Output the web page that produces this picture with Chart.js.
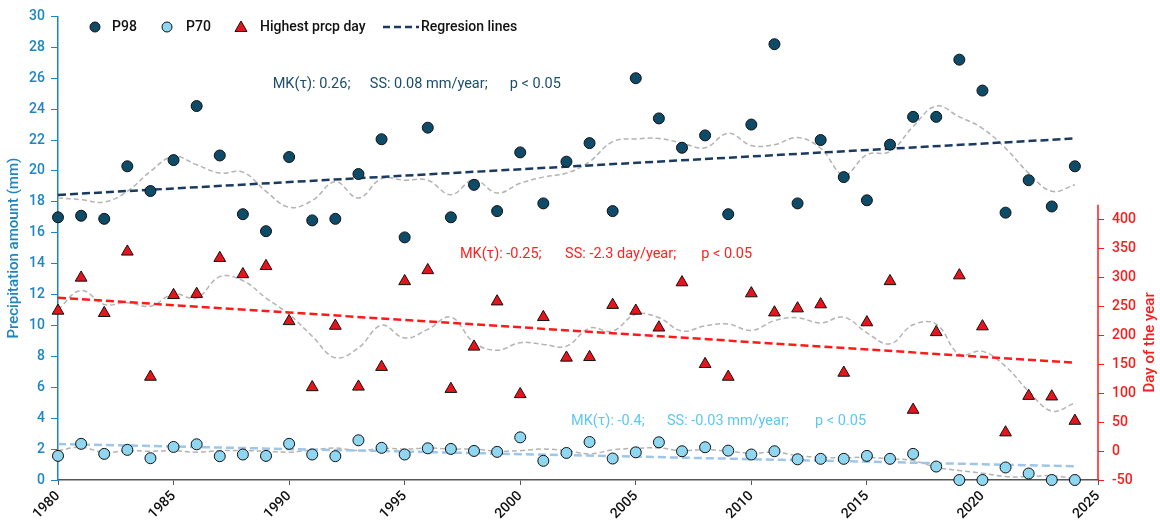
<!DOCTYPE html>
<html><head><meta charset="utf-8">
<script src="https://cdn.jsdelivr.net/npm/chart.js@4/dist/chart.umd.min.js"></script>
<style>html,body{margin:0;padding:0;background:#fff;}#wrap{width:1160px;height:523px;}</style>
</head><body><div id="wrap"><canvas id="c" width="1160" height="523"></canvas></div>
<script>
// ---------- data ----------
const years = [1980,1981,1982,1983,1984,1985,1986,1987,1988,1989,1990,1991,1992,1993,1994,1995,1996,1997,1998,1999,2000,2001,2002,2003,2004,2005,2006,2007,2008,2009,2010,2011,2012,2013,2014,2015,2016,2017,2018,2019,2020,2021,2022,2023,2024];
const p98 = [17.0,17.1,16.9,20.3,18.7,20.7,24.2,21.0,17.2,16.1,20.9,16.8,16.9,19.8,22.05,15.7,22.8,17.0,19.1,17.4,21.2,17.9,20.6,21.8,17.4,26.0,23.4,21.5,22.3,17.2,23.0,28.2,17.9,22.0,19.6,18.1,21.7,23.5,23.5,27.2,25.2,17.3,19.4,17.7,20.3];
const p70 = [1.56,2.34,1.69,1.95,1.41,2.14,2.31,1.54,1.65,1.56,2.34,1.65,1.54,2.57,2.08,1.65,2.05,2.01,1.88,1.82,2.76,1.24,1.75,2.46,1.39,1.79,2.44,1.86,2.12,1.90,1.65,1.86,1.34,1.37,1.37,1.56,1.37,1.69,0.87,0,0,0.81,0.42,0,0];
const prcpDay = [242,299,238,344,128,269,271,333,305,319,224,110,216,111,145,293,312,107,180,258,98,231,161,162,252,242,213,291,150,128,272,239,246,253,135,222,293,71,205,303,215,32,95,94,52];
const p98Smooth = [18.25,18.14,17.99,18.68,19.97,20.94,20.4,19.86,19.92,18.68,17.65,18.08,19.3,18.25,19.5,19.4,19.4,18.46,19.43,18.57,19.2,19.6,19.86,20.6,21.9,22.07,22.1,21.8,21.5,22.44,21.65,21.7,22.16,21.47,19.75,21.05,21.26,22.87,24.2,23.5,22.76,21.47,19.86,18.68,19.1];
const p70Smooth = [1.9,2.12,1.78,1.9,1.86,1.9,1.8,1.9,1.9,1.86,1.8,1.95,2.07,1.9,2.05,2.0,2.07,2.0,2.0,1.86,1.9,2.0,1.9,1.69,1.95,2.05,2.07,1.9,1.97,1.86,1.73,1.8,1.58,1.47,1.43,1.47,1.37,1.26,0.83,0.61,0.44,0.22,0.22,0.28,0.07];
const daySmooth = [244,277,253,256,250,271,264,301,294,264,236,198,161,178,217,195,210,231,187,174,187,184,181,212,207,236,230,207,216,219,208,225,230,221,231,204,185,218,219,167,172,146,103,69,83];
const trendYears = [1980,2024];
const p98Trend = [18.45,22.1];
const p70Trend = [2.33,0.89];
const dayTrend = [264.5,152.3];
const xTicks = [1980,1985,1990,1995,2000,2005,2010,2015,2020,2025];
const leftTicksMax = 30, dayAxisMin = -50, dayAxisMaxLabel = 400, dayAxisLineTop = 425;
const legendLabels = ['P98','P70','Highest prcp day','Regresion lines'];
const statsP98 = ['MK(\u03C4): 0.26;','SS: 0.08 mm/year;','p < 0.05'];
const statsDay = ['MK(\u03C4): -0.25;','SS: -2.3 day/year;','p < 0.05'];
const statsP70 = ['MK(\u03C4): -0.4;','SS: -0.03 mm/year;','p < 0.05'];
const yTitle = 'Precipitation amount (mm)';
const y2Title = 'Day of the year';

// ---------- styles ----------
const NAVY = '#0d4b69', LIGHT = '#8fd6f1', RED = '#ff1a1a', TRI = '#e8141b';
const NAVYLINE = '#1b3a63', LIGHTLINE = '#9ec5ea', GRAY = '#b3b3b3';
const BLUEAX = '#1d86c0';
const FONT = 'Roboto';

const pts = (xs, ys) => xs.map((x, i) => ({x: x, y: ys[i]}));

// annotation anchors (x in years, y in axis values)
const annP98 = {ys: 25.58, xs: [1989.29, 1993.49, 1999.55], color: '#1b4e6d'};
const annDay = {ys: 340, xs: [1997.39, 2001.94, 2007.83], color: '#ff2222'};
const annP70 = {ys: 3.79, xs: [2002.2, 2006.35, 2012.76], color: '#5cc8f2'};

const decor = {
  id: 'decor',
  afterDraw(chart) {
    const ctx = chart.ctx, sx = chart.scales.x, sy = chart.scales.y, sy2 = chart.scales.y2;
    ctx.save();
    const rx = chart.chartArea.right;
    ctx.strokeStyle = RED; ctx.lineWidth = 1.5; ctx.setLineDash([]);
    ctx.beginPath(); ctx.moveTo(rx, sy2.getPixelForValue(dayAxisMin)); ctx.lineTo(rx, sy2.getPixelForValue(dayAxisLineTop)); ctx.stroke();
    ctx.save();
    const cy = (sy2.getPixelForValue(dayAxisMin) + sy2.getPixelForValue(dayAxisLineTop)) / 2;
    ctx.translate(1150, cy); ctx.rotate(-Math.PI / 2);
    ctx.fillStyle = RED; ctx.font = '500 15px ' + FONT; ctx.textAlign = 'center'; ctx.textBaseline = 'middle';
    ctx.fillText(y2Title, 0, 0);
    ctx.restore();
    ctx.font = '400 14.5px ' + FONT; ctx.textAlign = 'left'; ctx.textBaseline = 'middle';
    const drawAnn = (a, texts, scale) => {
      ctx.fillStyle = a.color;
      texts.forEach((t, i) => ctx.fillText(t, sx.getPixelForValue(a.xs[i]), scale.getPixelForValue(a.ys)));
    };
    drawAnn(annP98, statsP98, sy);
    drawAnn(annDay, statsDay, sy2);
    drawAnn(annP70, statsP70, sy);
    const ly = 27;
    ctx.lineWidth = 1; ctx.strokeStyle = '#111';
    ctx.fillStyle = NAVY; ctx.beginPath(); ctx.arc(95, ly, 5, 0, Math.PI * 2); ctx.fill(); ctx.stroke();
    ctx.fillStyle = LIGHT; ctx.beginPath(); ctx.arc(167, ly, 5, 0, Math.PI * 2); ctx.fill(); ctx.stroke();
    ctx.fillStyle = TRI; ctx.beginPath(); ctx.moveTo(241, ly - 6); ctx.lineTo(247, ly + 4.5); ctx.lineTo(235, ly + 4.5); ctx.closePath(); ctx.fill(); ctx.stroke();
    ctx.strokeStyle = NAVYLINE; ctx.lineWidth = 2.5; ctx.setLineDash([7, 4]);
    ctx.beginPath(); ctx.moveTo(383, ly); ctx.lineTo(419, ly); ctx.stroke(); ctx.setLineDash([]);
    ctx.fillStyle = '#111'; ctx.font = '500 14px ' + FONT; ctx.textAlign = 'left'; ctx.textBaseline = 'middle';
    ctx.fillText(legendLabels[0], 112, ly);
    ctx.fillText(legendLabels[1], 186, ly);
    ctx.fillText(legendLabels[2], 260, ly);
    ctx.fillText(legendLabels[3], 421, ly);
    ctx.restore();
  }
};

const smoothDs = (data, axis) => ({type: 'line', data, yAxisID: axis, borderColor: GRAY, borderWidth: 1.5, borderDash: [5, 3], pointRadius: 0, tension: 0.4, fill: false, order: 3});
const trendDs = (data, axis, color, w) => ({type: 'line', data, yAxisID: axis, borderColor: color, borderWidth: w, borderDash: [8, 4], pointRadius: 0, tension: 0, fill: false, order: 2});
const ptDs = (data, axis, color, style, r) => ({type: 'line', data, yAxisID: axis, showLine: false, pointStyle: style, pointRadius: r, pointBackgroundColor: color, pointBorderColor: '#111', pointBorderWidth: 1, clip: false, order: 1});

new Chart(document.getElementById('c'), {
  type: 'line',
  data: {
    datasets: [
      smoothDs(pts(years, p98Smooth), 'y'),
      smoothDs(pts(years, p70Smooth), 'y'),
      smoothDs(pts(years, daySmooth), 'y2'),
      trendDs(pts(trendYears, p98Trend), 'y', NAVYLINE, 2.5),
      trendDs(pts(trendYears, dayTrend), 'y2', RED, 2.5),
      trendDs(pts(trendYears, p70Trend), 'y', LIGHTLINE, 2.5),
      ptDs(pts(years, p98), 'y', NAVY, 'circle', 5.5),
      ptDs(pts(years, p70), 'y', LIGHT, 'circle', 5.5),
      ptDs(pts(years, prcpDay), 'y2', TRI, 'triangle', 6.8)
    ]
  },
  options: {
    responsive: false, animation: false, devicePixelRatio: 1,
    layout: {padding: {top: 15, left: 0, right: 0, bottom: 0}},
    plugins: {legend: {display: false}, tooltip: {enabled: false}},
    scales: {
      x: {
        type: 'linear', min: xTicks[0], max: xTicks[xTicks.length - 1],
        afterBuildTicks: s => { s.ticks = xTicks.map(v => ({value: v})); },
        afterFit: s => { s.height = 43; },
        grid: {drawOnChartArea: false, drawTicks: true, tickLength: 5, color: '#555'},
        border: {color: '#555', width: 1.5},
        ticks: {color: '#111', font: {family: FONT, size: 14, weight: '500'}, maxRotation: 45, minRotation: 45, autoSkip: false, padding: 3, callback: v => String(v)}
      },
      y: {
        position: 'left', min: 0, max: leftTicksMax,
        afterFit: s => { s.width = 58; },
        grid: {drawOnChartArea: false, drawTicks: true, tickLength: 7, color: BLUEAX},
        border: {color: BLUEAX, width: 1.5},
        ticks: {stepSize: 2, color: BLUEAX, font: {family: FONT, size: 14, weight: '500'}, padding: 6},
        title: {display: true, text: yTitle, color: BLUEAX, font: {family: FONT, size: 15, weight: '500'}, padding: {top: 5, bottom: 2}}
      },
      y2: {
        position: 'right', min: dayAxisMin, max: 750,
        afterBuildTicks: s => { s.ticks = s.ticks.filter(t => t.value <= dayAxisMaxLabel); },
        afterFit: s => { s.width = 62; },
        grid: {drawOnChartArea: false, drawTicks: true, tickLength: 6, color: RED},
        border: {display: false},
        ticks: {stepSize: 50, color: RED, font: {family: FONT, size: 14, weight: '500'}, padding: 8}
      }
    }
  },
  plugins: [decor]
});
</script></body></html>
